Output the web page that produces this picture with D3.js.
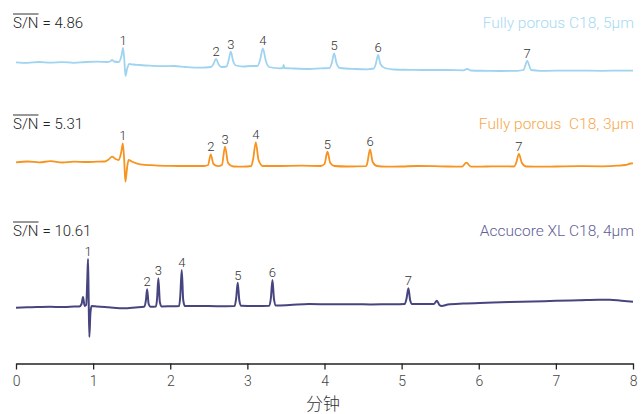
<!DOCTYPE html>
<html>
<head>
<meta charset="utf-8">
<script src="https://cdn.jsdelivr.net/npm/d3@7"></script>
<style>
  body { margin: 0; background: #fff; }
  svg { display: block; }
</style>
</head>
<body>
<svg id="chart"></svg>
<script>
// x axis ticks (minutes) and label
const timeTicks = [0, 1, 2, 3, 4, 5, 6, 7, 8];
const xTitle = "分钟";

// column names and S/N values
const columnNames = ["Fully porous C18, 5μm", "Fully porous  C18, 3μm", "Accucore XL C18, 4μm"];
const snValues = ["4.86", "5.31", "10.61"];

// chromatogram traces: [time (min), signal (relative to start baseline)]
const trace5um = [
  [0, 0.7], [0.15, 0.2], [0.3, 1], [0.45, 0.3], [0.6, 0.9], [0.75, 0.2], [0.9, 1], [1.05, 1.3],
  [1.18, 1], [1.22, 1.5], [1.245, 3], [1.27, 1.5], [1.33, 1], [1.37, 8], [1.388, 15], [1.405, 2],
  [1.42, -13], [1.44, -6], [1.47, -1], [1.52, -1.5], [1.6, -2], [1.74, -2.7], [1.9, -3.2], [2.05, -3],
  [2.2, -4], [2.39, -4.7], [2.53, -4], [2.56, -1], [2.594, 4], [2.625, -1], [2.66, -4], [2.73, -3.5],
  [2.755, 2], [2.785, 11.3], [2.815, 2], [2.85, -2.5], [2.95, -3.5], [3.04, -3], [3.13, -3], [3.165, 3],
  [3.2, 14.7], [3.24, 2], [3.28, -4], [3.42, -5.3], [3.46, -5], [3.47, -2], [3.48, -5], [3.6, -5.5],
  [3.81, -6], [3.95, -5.3], [4.06, -5.2], [4.095, 0], [4.125, 9.7], [4.155, 0], [4.2, -5], [4.4, -6],
  [4.55, -6.3], [4.64, -5.5], [4.665, -1], [4.695, 8], [4.725, -1], [4.78, -5], [4.9, -6.5], [5.1, -6.8],
  [5.3, -7], [5.6, -7], [5.8, -7.3], [5.85, -6], [5.9, -7.5], [6.1, -7.8], [6.3, -8], [6.5, -7.8],
  [6.58, -7], [6.628, 2], [6.68, -7], [6.8, -7.8], [7.0, -7.7], [7.3, -7.6], [7.6, -7.8], [7.85, -7.6],
  [8, -7.7]
];
const trace3um = [
  [0, -0.3], [0.15, 0.5], [0.3, -0.3], [0.45, 0.8], [0.6, -0.5], [0.75, 0.3], [0.9, 0], [1.05, 0.3],
  [1.15, 0.5], [1.2, 2.5], [1.245, 5.3], [1.29, 3], [1.33, 2], [1.365, 10], [1.385, 18.7], [1.403, 2],
  [1.418, -19.7], [1.44, -6], [1.46, 2], [1.5, 0.5], [1.61, -2.3], [1.8, -3.3], [2.0, -3.8], [2.2, -4],
  [2.44, -4], [2.49, -3], [2.525, 7.7], [2.56, -2], [2.62, -4.2], [2.67, -3], [2.71, 15.3], [2.75, -1],
  [2.82, -4.5], [2.95, -4.7], [3.05, -4], [3.075, 3], [3.109, 19.7], [3.145, 2], [3.2, -4], [3.4, -4],
  [3.7, -3.7], [3.95, -4], [4.0, -2], [4.038, 10.3], [4.075, -1], [4.13, -4], [4.3, -4.5], [4.54, -4.2],
  [4.555, -1], [4.59, 12.7], [4.625, 0], [4.68, -4], [4.8, -4.7], [5.0, -4.5], [5.2, -4], [5.5, -4.3],
  [5.78, -4.7], [5.84, -0.7], [5.9, -4.7], [6.1, -4.5], [6.3, -4.3], [6.46, -4.5], [6.485, -1], [6.52, 8],
  [6.56, -1], [6.62, -4.5], [6.8, -4.7], [7.0, -4.5], [7.3, -4.2], [7.6, -4.3], [7.8, -3.7], [7.9, -3],
  [7.97, -1.5], [8, -1.3]
];
const trace4um = [
  [0, 0.3], [0.2, 0.8], [0.44, 1.3], [0.6, 0.9], [0.7, 1.3], [0.82, 1.5], [0.85, 4], [0.869, 11],
  [0.89, 2], [0.91, 3], [0.925, 30], [0.934, 49], [0.942, 10], [0.951, -29], [0.965, -5], [0.98, 2],
  [1.05, 1.5], [1.2, 0.7], [1.4, -0.3], [1.55, 0.5], [1.66, 1.2], [1.685, 8], [1.7, 18.7], [1.72, 4],
  [1.745, 1.2], [1.815, 1.5], [1.83, 10], [1.846, 29.7], [1.865, 6], [1.89, 1.5], [2.0, 1.7], [2.115, 2],
  [2.13, 12], [2.149, 38], [2.168, 8], [2.19, 2], [2.4, 2], [2.6, 1.8], [2.835, 2], [2.855, 10],
  [2.875, 25.3], [2.895, 8], [2.92, 2.2], [3.1, 2], [3.285, 2.3], [3.305, 10], [3.325, 28], [3.345, 9],
  [3.37, 2.5], [3.55, 3], [3.8, 4], [4.1, 3.7], [4.4, 3.8], [4.6, 3.5], [4.8, 3.7], [5.04, 4],
  [5.065, 10], [5.088, 19.7], [5.11, 8], [5.135, 4], [5.3, 4], [5.42, 4], [5.457, 7.3], [5.49, 3],
  [5.52, 2], [5.6, 3.5], [5.8, 4.5], [6.1, 5.3], [6.4, 6], [6.7, 6.5], [7.0, 7.2], [7.3, 7.7],
  [7.55, 8.2], [7.7, 8.3], [7.85, 7.2], [8, 6.3]
];

// peak labels: [number, time, apex signal]
const peaks5um = [[1, 1.388, 15], [2, 2.594, 4], [3, 2.785, 11.3], [4, 3.2, 14.7], [5, 4.125, 9.7], [6, 4.695, 8], [7, 6.628, 2]];
const peaks3um = [[1, 1.385, 18.7], [2, 2.525, 7.7], [3, 2.71, 15.3], [4, 3.109, 19.7], [5, 4.038, 10.3], [6, 4.59, 12.7], [7, 6.52, 8]];
const peaks4um = [[1, 0.934, 49], [2, 1.7, 18.7], [3, 1.846, 29.7], [4, 2.149, 38], [5, 2.875, 25.3], [6, 3.325, 28], [7, 5.088, 19.7]];

const width = 642, height = 414;
const font = "Roboto, 'Liberation Sans', Arial, sans-serif";

const svg = d3.select("#chart")
  .attr("width", width)
  .attr("height", height);

const x = d3.scaleLinear().domain([0, 8]).range([16, 633]);

// one panel per column, each with its own signal scale (1 unit ~ 1px)
const panels = [
  { name: columnNames[0], sn: snValues[0], data: trace5um, peaks: peaks5um, zero: 63, textY: 28,
    line: "#9fd4f0", label: "#a6d9f3", stroke: 1.8 },
  { name: columnNames[1], sn: snValues[1], data: trace3um, peaks: peaks3um, zero: 162, textY: 129,
    line: "#f7931e", label: "#f8a84c", stroke: 1.8 },
  { name: columnNames[2], sn: snValues[2], data: trace4um, peaks: peaks4um, zero: 308, textY: 236,
    line: "#47457f", label: "#5f5e96", stroke: 2 }
];

panels.forEach(p => {
  const y = d3.scaleLinear().domain([-30, 50]).range([p.zero + 30, p.zero - 50]);

  const line = d3.line()
    .x(d => x(d[0]))
    .y(d => y(d[1]))
    .curve(d3.curveMonotoneX);

  svg.append("path")
    .datum(p.data)
    .attr("fill", "none")
    .attr("stroke", p.line)
    .attr("stroke-width", p.stroke)
    .attr("stroke-linejoin", "round")
    .attr("d", line);

  // peak numbers
  svg.append("g")
    .selectAll("text")
    .data(p.peaks)
    .enter()
    .append("text")
    .attr("x", d => x(d[1]))
    .attr("y", d => y(d[2]) - 3)
    .attr("text-anchor", "middle")
    .attr("font-family", font)
    .attr("font-weight", 300)
    .attr("font-size", 13)
    .attr("fill", "#333")
    .text(d => d[0]);

  // S/N with overline
  const sn = svg.append("text")
    .attr("x", 13)
    .attr("y", p.textY)
    .attr("font-family", font)
    .attr("font-weight", 300)
    .attr("font-size", 15)
    .attr("fill", "#222")
    .text("S/N");
  const w = sn.node().getComputedTextLength();
  svg.append("line")
    .attr("x1", 13).attr("x2", 13 + w)
    .attr("y1", p.textY - 14).attr("y2", p.textY - 14)
    .attr("stroke", "#333")
    .attr("stroke-width", 1);
  svg.append("text")
    .attr("x", 13 + w + 4)
    .attr("y", p.textY)
    .attr("font-family", font)
    .attr("font-weight", 300)
    .attr("font-size", 15)
    .attr("fill", "#222")
    .text("= " + p.sn);

  // column name
  svg.append("text")
    .attr("x", 634)
    .attr("y", p.textY)
    .attr("text-anchor", "end")
    .attr("font-family", font)
    .attr("font-weight", 300)
    .attr("font-size", 15.5)
    .attr("fill", p.label)
    .style("white-space", "pre")
    .text(p.name);
});

// time axis
const xAxis = d3.axisBottom(x)
  .tickValues(timeTicks)
  .tickSize(6)
  .tickSizeOuter(0)
  .tickFormat(d3.format("d"));

const gx = svg.append("g")
  .attr("transform", "translate(0," + 363.5 + ")")
  .call(xAxis);

gx.select(".domain").attr("stroke", "#222").attr("stroke-width", 1.3);
gx.selectAll(".tick line").attr("stroke", "#222").attr("stroke-width", 1.3);
gx.selectAll(".tick text")
  .attr("font-family", font)
  .attr("font-weight", 300)
  .attr("font-size", 14)
  .attr("fill", "#444")
  .attr("dy", "0.95em");

svg.append("text")
  .attr("x", 323)
  .attr("y", 410)
  .attr("text-anchor", "middle")
  .attr("font-family", "'Noto Sans CJK SC', sans-serif")
  .attr("font-weight", 300)
  .attr("font-size", 17)
  .attr("fill", "#333")
  .text(xTitle);
</script>
</body>
</html>
